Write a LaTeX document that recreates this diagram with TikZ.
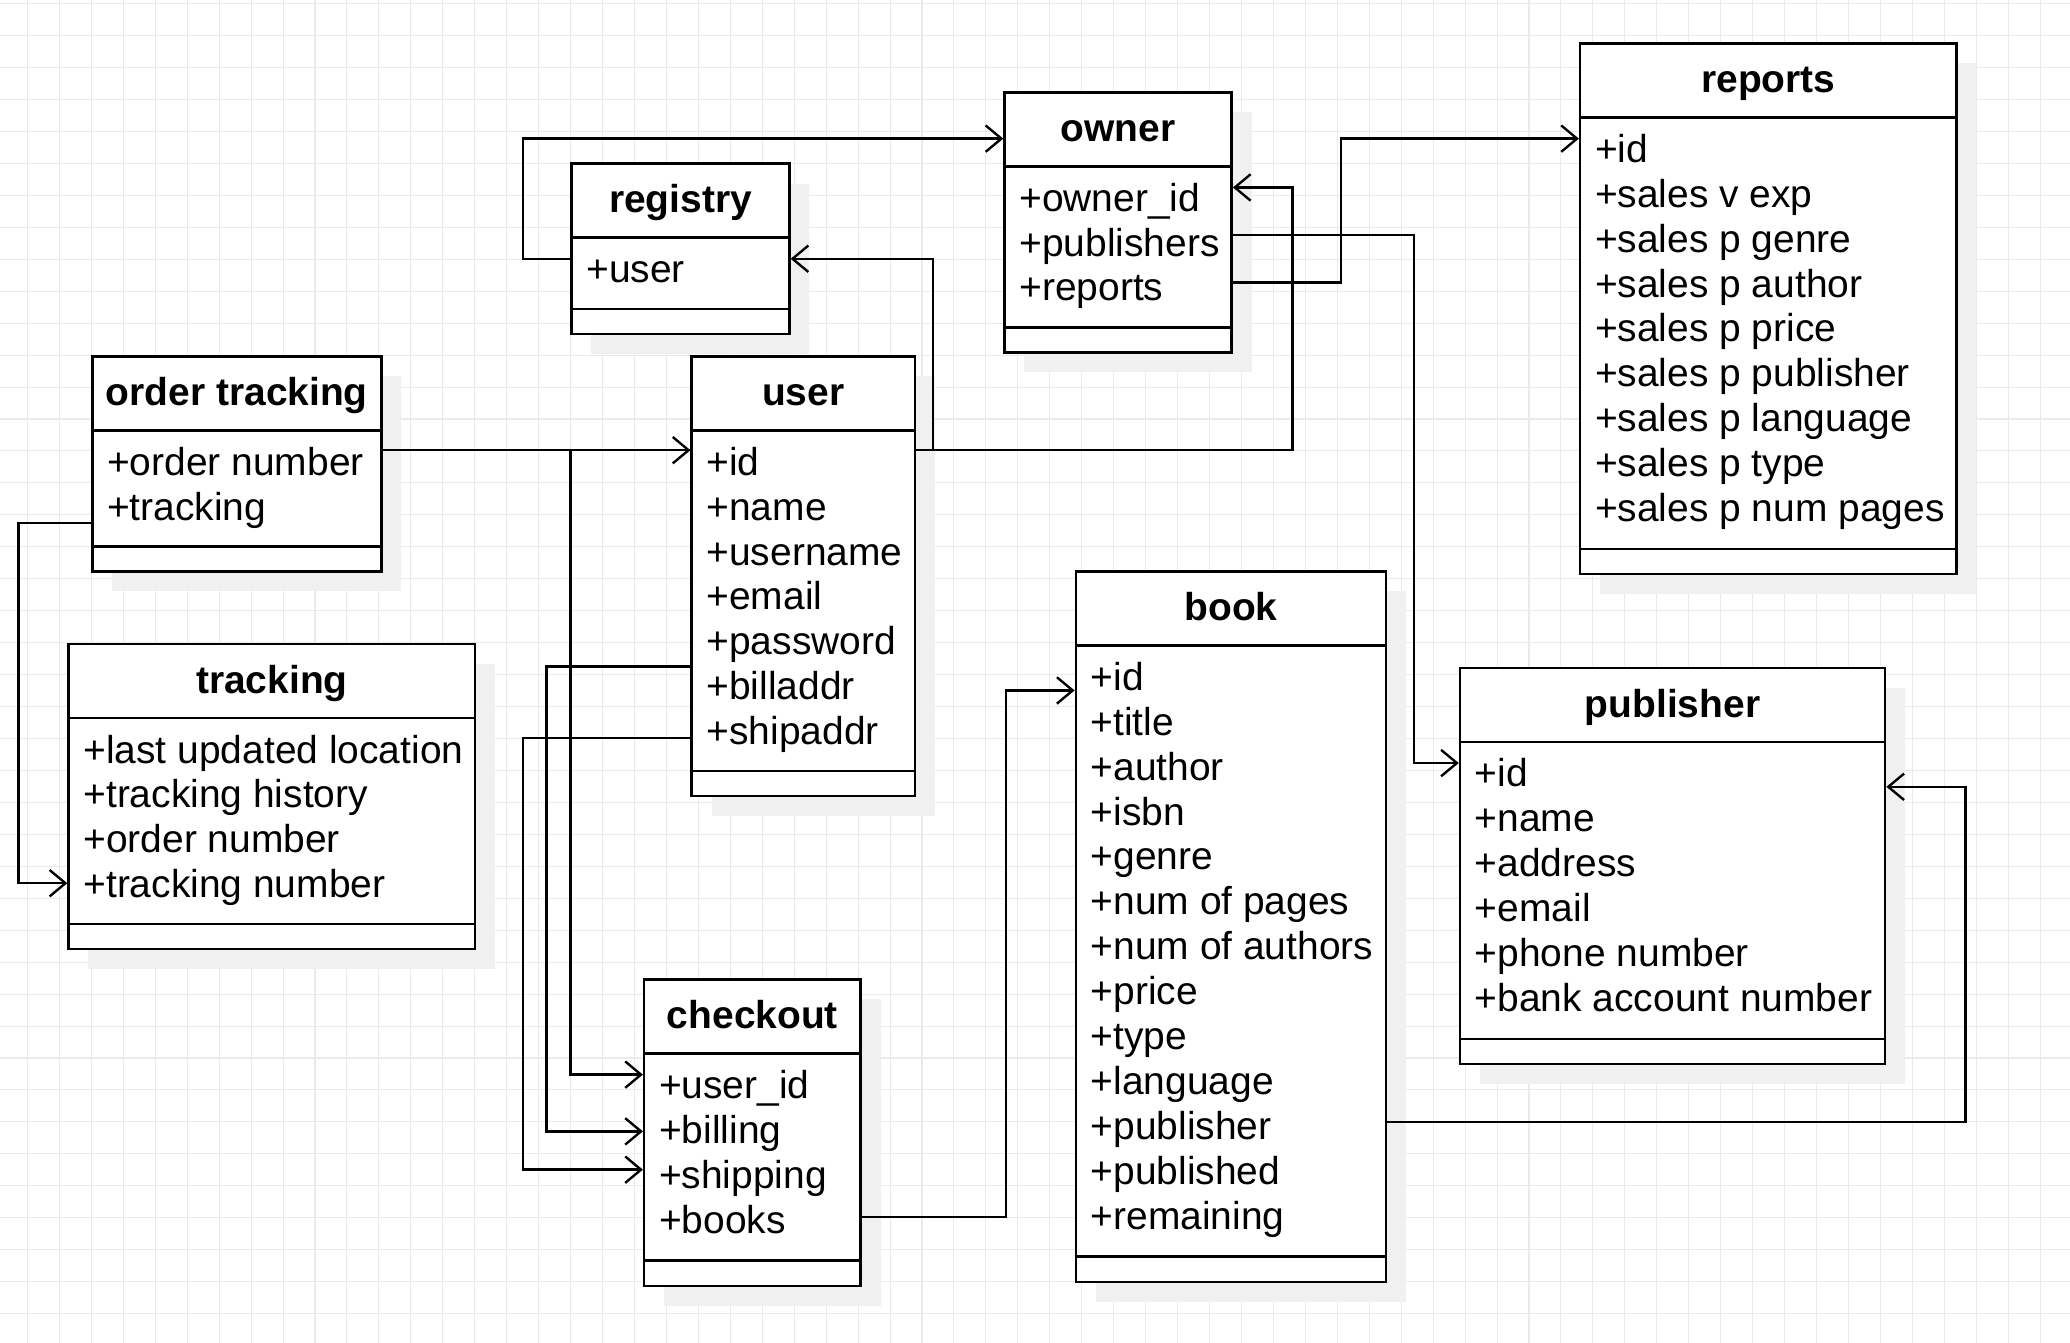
\documentclass[tikz,border=0pt]{standalone}
\usepackage{fontspec}
\setmainfont{Liberation Sans}
\usetikzlibrary{positioning,arrows.meta}
\definecolor{mygrid}{RGB}{234,234,234}
\definecolor{myshadow}{RGB}{240,240,240}
\tikzset{
  classbox/.style={draw,line width=1.9pt,fill=white,anchor=north west,inner sep=0pt},
  classtitle/.style={font=\fontsize{29.5}{34}\selectfont\bfseries,minimum height=57pt,text height=23pt,text depth=4pt,inner sep=0pt},
  attrs/.style={font=\fontsize{29.5}{34}\selectfont,align=left,inner xsep=12pt,inner ysep=0pt},
  sepline/.style={line width=1.9pt},
  assoc/.style={line width=1.8pt,-{Straight Barb[length=12pt,width=20pt]}},
}
\begin{document}
\begin{tikzpicture}[x=1pt,y=-1pt]
            \fill[white] (0,0) rectangle (1568,1017);
            \useasboundingbox (0,0) rectangle (1568,1017);
            \begin{scope}[shift={(20.8,27)}]
              \draw[mygrid,line width=0.8pt] (-20.8,-27) grid[step=24.2pt] (1547.2,990);
            \end{scope}
            \fill[myshadow] (448,139) rectangle ++(165,129);
            \fill[myshadow] (776,85) rectangle ++(172,197);
            \fill[myshadow] (1212,48) rectangle ++(285,402);
            \fill[myshadow] (85,285) rectangle ++(219,163);
            \fill[myshadow] (539,285) rectangle ++(169,333);
            \fill[myshadow] (67,503) rectangle ++(308,231);
            \fill[myshadow] (830,448) rectangle ++(235,538);
            \fill[myshadow] (1121,521) rectangle ++(322,300);
            \fill[myshadow] (503,757) rectangle ++(164,232);

            \node[classbox,minimum width=165pt,minimum height=129pt] (registry) at (432,123) {};
            \node[classtitle,below=0pt of registry.north] (registry-title) {registry};
            \node[attrs,below right=67pt and 0pt of registry.north west] (registry-attrs) {\strut+user};
            \draw[sepline] ([yshift=-57pt]registry.north west) -- ([yshift=-57pt]registry.north east);
            \draw[sepline] ([yshift=20pt]registry.south west) -- ([yshift=20pt]registry.south east);

            \node[classbox,minimum width=172pt,minimum height=197pt] (owner) at (760,69) {};
            \node[classtitle,below=0pt of owner.north] (owner-title) {owner};
            \node[attrs,below right=67pt and 0pt of owner.north west] (owner-attrs) {\strut+owner\_id\\+publishers\\+reports};
            \draw[sepline] ([yshift=-57pt]owner.north west) -- ([yshift=-57pt]owner.north east);
            \draw[sepline] ([yshift=20pt]owner.south west) -- ([yshift=20pt]owner.south east);

            \node[classbox,minimum width=285pt,minimum height=402pt] (reports) at (1196,32) {};
            \node[classtitle,below=0pt of reports.north] (reports-title) {reports};
            \node[attrs,below right=67pt and 0pt of reports.north west] (reports-attrs) {\strut+id\\+sales v exp\\+sales p genre\\+sales p author\\+sales p price\\+sales p publisher\\+sales p language\\+sales p type\\+sales p num pages};
            \draw[sepline] ([yshift=-57pt]reports.north west) -- ([yshift=-57pt]reports.north east);
            \draw[sepline] ([yshift=20pt]reports.south west) -- ([yshift=20pt]reports.south east);

            \node[classbox,minimum width=219pt,minimum height=163pt] (ordertr) at (69,269) {};
            \node[classtitle,below=0pt of ordertr.north] (ordertr-title) {order tracking};
            \node[attrs,below right=67pt and 0pt of ordertr.north west] (ordertr-attrs) {\strut+order number\\+tracking};
            \draw[sepline] ([yshift=-57pt]ordertr.north west) -- ([yshift=-57pt]ordertr.north east);
            \draw[sepline] ([yshift=20pt]ordertr.south west) -- ([yshift=20pt]ordertr.south east);

            \node[classbox,minimum width=169pt,minimum height=333pt] (user) at (523,269) {};
            \node[classtitle,below=0pt of user.north] (user-title) {user};
            \node[attrs,below right=67pt and 0pt of user.north west] (user-attrs) {\strut+id\\+name\\+username\\+email\\+password\\+billaddr\\+shipaddr};
            \draw[sepline] ([yshift=-57pt]user.north west) -- ([yshift=-57pt]user.north east);
            \draw[sepline] ([yshift=20pt]user.south west) -- ([yshift=20pt]user.south east);

            \node[classbox,minimum width=308pt,minimum height=231pt] (tracking) at (51,487) {};
            \node[classtitle,below=0pt of tracking.north] (tracking-title) {tracking};
            \node[attrs,below right=67pt and 0pt of tracking.north west] (tracking-attrs) {\strut+last updated location\\+tracking history\\+order number\\+tracking number};
            \draw[sepline] ([yshift=-57pt]tracking.north west) -- ([yshift=-57pt]tracking.north east);
            \draw[sepline] ([yshift=20pt]tracking.south west) -- ([yshift=20pt]tracking.south east);

            \node[classbox,minimum width=235pt,minimum height=538pt] (book) at (814,432) {};
            \node[classtitle,below=0pt of book.north] (book-title) {book};
            \node[attrs,below right=67pt and 0pt of book.north west] (book-attrs) {\strut+id\\+title\\+author\\+isbn\\+genre\\+num of pages\\+num of authors\\+price\\+type\\+language\\+publisher\\+published\\+remaining};
            \draw[sepline] ([yshift=-57pt]book.north west) -- ([yshift=-57pt]book.north east);
            \draw[sepline] ([yshift=20pt]book.south west) -- ([yshift=20pt]book.south east);

            \node[classbox,minimum width=322pt,minimum height=300pt] (publisher) at (1105,505) {};
            \node[classtitle,below=0pt of publisher.north] (publisher-title) {publisher};
            \node[attrs,below right=67pt and 0pt of publisher.north west] (publisher-attrs) {\strut+id\\+name\\+address\\+email\\+phone number\\+bank account number};
            \draw[sepline] ([yshift=-57pt]publisher.north west) -- ([yshift=-57pt]publisher.north east);
            \draw[sepline] ([yshift=20pt]publisher.south west) -- ([yshift=20pt]publisher.south east);

            \node[classbox,minimum width=164pt,minimum height=232pt] (checkout) at (487,741) {};
            \node[classtitle,below=0pt of checkout.north] (checkout-title) {checkout};
            \node[attrs,below right=67pt and 0pt of checkout.north west] (checkout-attrs) {\strut+user\_id\\+billing\\+shipping\\+books};
            \draw[sepline] ([yshift=-57pt]checkout.north west) -- ([yshift=-57pt]checkout.north east);
            \draw[sepline] ([yshift=20pt]checkout.south west) -- ([yshift=20pt]checkout.south east);

            \draw[assoc] ([yshift=-73pt]registry.north west) -- ++(-36,0) |- ([yshift=-36pt]owner.north west);
            \draw[assoc] ([yshift=-72pt]user.north east) -- ++(13,0) |- ([yshift=-73pt]registry.north east);
            \draw[assoc] ([yshift=-72pt]user.north east) -- ++(285,0) |- ([yshift=-73pt]owner.north east);
            \draw[assoc] ([yshift=-72pt]ordertr.north east) -- ([yshift=-72pt]user.north west);
            \draw[assoc] ([yshift=-127pt]ordertr.north west) -- ++(-55,0) |- ([yshift=-182pt]tracking.north west);
            \draw[assoc] ([yshift=-72pt]user.north west) -- ++(-91,0) |- ([yshift=-73pt]checkout.north west);
            \draw[assoc] ([yshift=-236pt]user.north west) -- ++(-109,0) |- ([yshift=-116pt]checkout.north west);
            \draw[assoc] ([yshift=-290pt]user.north west) -- ++(-127,0) |- ([yshift=-145pt]checkout.north west);
            \draw[assoc] ([yshift=-181pt]checkout.north east) -- ++(109,0) |- ([yshift=-91pt]book.north west);
            \draw[assoc] ([yshift=-109pt]owner.north east) -- ++(137,0) |- ([yshift=-73pt]publisher.north west);
            \draw[assoc] ([yshift=-145pt]owner.north east) -- ++(82,0) |- ([yshift=-73pt]reports.north west);
            \draw[assoc] ([yshift=-418pt]book.north east) -- ++(438,0) |- ([yshift=-91pt]publisher.north east);
        \end{tikzpicture}
\end{document}
